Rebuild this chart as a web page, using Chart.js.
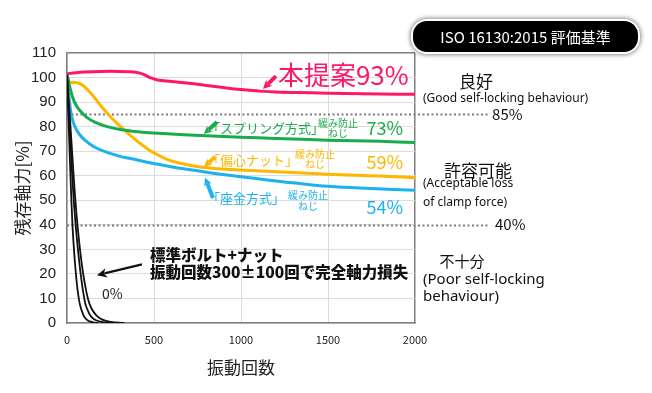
<!DOCTYPE html>
<html>
<head>
<meta charset="utf-8">
<script src="https://cdn.jsdelivr.net/npm/chart.js@4"></script>
<style>
  html, body { margin: 0; padding: 0; background: #fff; }
  #wrap { position: relative; width: 652px; height: 393px; }
  #badge {
    position: absolute; left: 411px; top: 19px; width: 225px; height: 31px;
    background: #000; border: 2px solid #fff; border-radius: 16px;
    box-shadow: 0 0 4px 1px rgba(0,0,0,0.45);
    color: #fff; font: 15px 'Noto Sans CJK JP', sans-serif; line-height: 31px; text-align: center;
  }
</style>
</head>
<body>
<div id="wrap">
  <canvas id="chart" width="652" height="393"></canvas>
  <div id="badge">ISO 16130:2015 評価基準</div>
</div>
<script>
// --- data (x: vibration cycles, y: residual axial force %) ---
const xTicks = [0, 500, 1000, 1500, 2000];
const yTicks = [0, 10, 20, 30, 40, 50, 60, 70, 80, 90, 100, 110];

const proposalX = [0, 50, 100, 200, 300, 350, 400, 440, 480, 520, 600, 700, 800, 900, 1000, 1100, 1200, 1400, 1600, 1800, 2000];
const proposalY = [101.5, 102, 102.3, 102.5, 102.5, 102.4, 102.1, 101.3, 99.9, 99, 98.4, 97.7, 96.8, 95.9, 95.1, 94.5, 94.1, 93.8, 93.5, 93.3, 93.2];

const springX = [0, 15, 30, 50, 75, 110, 160, 230, 314, 450, 600, 800, 1000, 1200, 1500, 1800, 2000];
const springY = [101.5, 96.5, 92.5, 89, 86.5, 84, 81.8, 80, 78.7, 77.6, 77, 76.3, 75.7, 75.2, 74.5, 74, 73.5];

const eccentricX = [0, 8, 20, 45, 70, 100, 150, 200, 250, 300, 350, 400, 450, 500, 575, 650, 765, 900, 1150, 1500, 1800, 2000];
const eccentricY = [101.5, 99, 98, 98, 97.6, 96.3, 92.5, 88, 84, 80.5, 77.3, 74.3, 71.6, 69.3, 66.7, 65.1, 63.6, 62.7, 61.8, 60.6, 59.9, 59.2];

const washerX = [0, 4, 11, 18, 27, 46, 70, 103, 150, 218, 300, 380, 448, 575, 700, 850, 1000, 1150, 1300, 1500, 1750, 2000];
const washerY = [101.5, 97, 92.2, 88, 84, 79.9, 77, 74.5, 72, 69.8, 68, 66.8, 65.7, 64, 62.5, 60.9, 59.6, 58.3, 57.1, 55.7, 54.8, 54.1];

const stdAX = [0, 10, 20, 30, 40, 50, 60, 70, 80, 90, 100, 120, 150, 180];
const stdAY = [101, 80, 60, 42, 30, 21, 14, 9, 6, 4, 2.5, 1, 0.3, 0];
const stdBX = [0, 15, 30, 45, 60, 75, 90, 105, 120, 140, 170, 210, 250];
const stdBY = [101, 80, 60, 44, 32, 22, 14, 8, 5, 2.5, 1, 0.3, 0];
const stdCX = [0, 20, 40, 55, 70, 85, 100, 120, 140, 170, 200, 250, 330];
const stdCY = [101, 80, 58, 44, 33, 24, 17, 10, 6, 3, 1.5, 0.5, 0];

const limitLevels = [85, 40];

const toPoints = (xs, ys) => xs.map((x, i) => ({ x: x, y: ys[i] }));

const RED = '#fe1769', GREEN = '#19ac4c', ORANGE = '#ffb600', BLUE = '#1cb2ef';
const JP = "'Noto Sans CJK JP', sans-serif";
const LATIN = "'Noto Sans', sans-serif";

// annotations, placed in data coordinates
const arrows = [
  { from: [1201, 100.6], to: [1126, 95.3], color: RED, width: 4, head: 10 },
  { from: [862, 81.9], to: [787, 77], color: GREEN, width: 4, head: 9 },
  { from: [851, 67.6], to: [787, 63.6], color: ORANGE, width: 4, head: 9 },
  { from: [839, 50.9], to: [793, 59.3], color: BLUE, width: 4, head: 9 },
  { from: [431, 23.9], to: [172, 19.5], color: '#111', width: 2.2, head: 11 }
];

const labels = [
  { text: '本提案93%', x: 1212, y: 101, align: 'left', font: '26px ' + JP, color: RED },
  { text: '「スプリング方式」', x: 805, y: 79.4, align: 'left', font: '13px ' + JP, color: GREEN },
  { text: '緩み防止', x: 1557, y: 81.6, align: 'center', font: '10px ' + JP, color: GREEN },
  { text: 'ねじ', x: 1557, y: 77.4, align: 'center', font: '10px ' + JP, color: GREEN },
  { text: '73%', x: 1931, y: 79.4, align: 'right', font: '18px ' + JP, color: GREEN },
  { text: '「偏心ナット」', x: 805, y: 66.4, align: 'left', font: '13px ' + JP, color: ORANGE },
  { text: '緩み防止', x: 1425, y: 68.8, align: 'center', font: '10px ' + JP, color: ORANGE },
  { text: 'ねじ', x: 1425, y: 64.5, align: 'center', font: '10px ' + JP, color: ORANGE },
  { text: '59%', x: 1931, y: 65.5, align: 'right', font: '18px ' + JP, color: ORANGE },
  { text: '「座金方式」', x: 805, y: 50.9, align: 'left', font: '13px ' + JP, color: BLUE },
  { text: '緩み防止', x: 1385, y: 52.1, align: 'center', font: '10px ' + JP, color: BLUE },
  { text: 'ねじ', x: 1385, y: 47.6, align: 'center', font: '10px ' + JP, color: BLUE },
  { text: '54%', x: 1931, y: 47.2, align: 'right', font: '18px ' + JP, color: BLUE },
  { text: '標準ボルト+ナット', x: 477, y: 27.6, align: 'left', font: '900 15.5px ' + JP, color: '#111' },
  { text: '振動回数300±100回で完全軸力損失', x: 477, y: 20.7, align: 'left', font: '900 15.5px ' + JP, color: '#111' },
  { text: '0%', x: 201, y: 12.1, align: 'left', font: '14px ' + JP, color: '#222' },
  { text: '良好', x: 2351, y: 98.2, align: 'center', font: '17px ' + JP, color: '#111' },
  { text: '(Good self-locking behaviour)', x: 2046, y: 91.6, align: 'left', font: '12px ' + LATIN, color: '#111' },
  { text: '85%', x: 2443, y: 84.9, align: 'left', font: '15px ' + JP, color: '#111' },
  { text: '許容可能', x: 2362, y: 62.3, align: 'center', font: '17px ' + JP, color: '#111' },
  { text: '(Acceptable loss', x: 2046, y: 57, align: 'left', font: '12px ' + LATIN, color: '#111' },
  { text: 'of clamp force)', x: 2046, y: 49.1, align: 'left', font: '12px ' + LATIN, color: '#111' },
  { text: '40%', x: 2460, y: 40.2, align: 'left', font: '15px ' + JP, color: '#111' },
  { text: '不十分', x: 2270, y: 25.2, align: 'center', font: '15px ' + JP, color: '#111' },
  { text: '(Poor self-locking', x: 2046, y: 17.8, align: 'left', font: '15px ' + LATIN, color: '#111' },
  { text: 'behaviour)', x: 2046, y: 10.5, align: 'left', font: '15px ' + LATIN, color: '#111' }
];

function drawArrow(ctx, x1, y1, x2, y2, color, width, head) {
  const ang = Math.atan2(y2 - y1, x2 - x1);
  const c = Math.cos(ang), s = Math.sin(ang);
  ctx.save();
  ctx.strokeStyle = color;
  ctx.fillStyle = color;
  ctx.lineWidth = width;
  ctx.beginPath();
  ctx.moveTo(x1, y1);
  ctx.lineTo(x2 - head * 0.7 * c, y2 - head * 0.7 * s);
  ctx.stroke();
  ctx.beginPath();
  ctx.moveTo(x2, y2);
  ctx.lineTo(x2 - head * Math.cos(ang - 0.45), y2 - head * Math.sin(ang - 0.45));
  ctx.lineTo(x2 - head * 0.65 * c, y2 - head * 0.65 * s);
  ctx.lineTo(x2 - head * Math.cos(ang + 0.45), y2 - head * Math.sin(ang + 0.45));
  ctx.closePath();
  ctx.fill();
  ctx.restore();
}

const annotationPlugin = {
  id: 'annotations',
  beforeDatasetsDraw(chart) {
    const { ctx, scales: { x, y } } = chart;
    ctx.save();
    ctx.strokeStyle = '#7a7a7a';
    ctx.lineWidth = 2;
    ctx.setLineDash([2, 2.5]);
    limitLevels.forEach(level => {
      const py = Math.round(y.getPixelForValue(level)) + 0.5;
      ctx.beginPath();
      ctx.moveTo(x.getPixelForValue(0), py);
      ctx.lineTo(x.getPixelForValue(2425), py);
      ctx.stroke();
    });
    ctx.restore();
  },
  afterDatasetsDraw(chart) {
    const { ctx, scales: { x, y } } = chart;
    arrows.forEach(a => {
      drawArrow(ctx, x.getPixelForValue(a.from[0]), y.getPixelForValue(a.from[1]),
        x.getPixelForValue(a.to[0]), y.getPixelForValue(a.to[1]), a.color, a.width, a.head);
    });
    ctx.save();
    ctx.textBaseline = 'middle';
    labels.forEach(l => {
      ctx.font = l.font;
      ctx.fillStyle = l.color;
      ctx.textAlign = l.align;
      ctx.fillText(l.text, x.getPixelForValue(l.x), y.getPixelForValue(l.y));
    });
    ctx.restore();
  }
};

const line = (data, color, width) => ({
  data: data,
  borderColor: color,
  borderWidth: width,
  pointRadius: 0,
  fill: false,
  tension: 0.4
});

new Chart(document.getElementById('chart'), {
  type: 'line',
  data: {
    datasets: [
      line(toPoints(stdAX, stdAY), '#111', 1.8),
      line(toPoints(stdBX, stdBY), '#111', 1.8),
      line(toPoints(stdCX, stdCY), '#111', 1.8),
      line(toPoints(proposalX, proposalY), RED, 3),
      line(toPoints(springX, springY), GREEN, 3),
      line(toPoints(eccentricX, eccentricY), ORANGE, 3),
      line(toPoints(washerX, washerY), BLUE, 3)
    ]
  },
  options: {
    responsive: false,
    animation: false,
    layout: { padding: { top: 53, right: 237, left: 0, bottom: 0 } },
    plugins: { legend: { display: false }, tooltip: { enabled: false } },
    scales: {
      x: {
        type: 'linear',
        min: 0, max: 2000,
        afterBuildTicks: s => { s.ticks = xTicks.map(v => ({ value: v })); },
        afterFit: s => { s.height = 70; },
        grid: {
          drawTicks: false,
          color: c => c.tick && c.tick.value === 2000 ? '#7f7f7f' : '#dcdcdc',
          lineWidth: c => c.tick && c.tick.value === 2000 ? 1.5 : 1
        },
        border: { color: '#7f7f7f', width: 1.5 },
        ticks: { padding: 10, color: '#222', font: { family: JP, size: 11 }, callback: v => String(v) },
        title: { display: true, text: '振動回数', color: '#222', font: { family: JP, size: 17 }, padding: { top: 0, bottom: 15 } }
      },
      y: {
        min: 0, max: 110,
        afterBuildTicks: s => { s.ticks = yTicks.map(v => ({ value: v })); },
        afterFit: s => { s.width = 67; },
        grid: {
          drawTicks: false,
          color: c => c.tick && c.tick.value === 110 ? '#7f7f7f' : '#dcdcdc',
          lineWidth: c => c.tick && c.tick.value === 110 ? 1.5 : 1
        },
        border: { color: '#7f7f7f', width: 1.5 },
        ticks: { padding: 11, color: '#222', font: { family: "'Liberation Sans', sans-serif", size: 15 } },
        title: { display: true, text: '残存軸力[%]', color: '#222', font: { family: JP, size: 17 }, padding: { top: 12, bottom: 0 } }
      }
    }
  },
  plugins: [annotationPlugin]
});
</script>
</body>
</html>
